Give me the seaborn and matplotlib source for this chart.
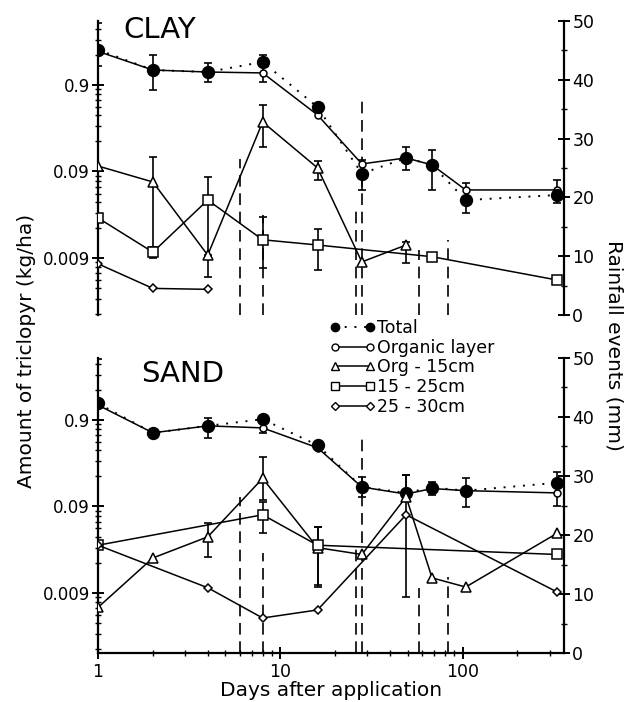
import matplotlib
matplotlib.use('Agg')
import matplotlib.pyplot as plt
import matplotlib.ticker as mticker
from matplotlib.lines import Line2D
import seaborn as sns
import numpy as np

# ---- data ----
days = [1, 2, 4, 8, 16, 28, 49, 68, 104, 330]

# CLAY
clay_total = [2.3, 1.34, 1.27, 1.66, 0.50, 0.085, 0.129, 0.107, 0.042, 0.048]
clay_total_lo = [1.5, 0.79, 0.98, 0.98, np.nan, 0.055, 0.094, 0.055, 0.030, 0.039]
clay_total_hi = [4.7, 2.0, 1.6, 2.0, np.nan, 0.123, 0.173, 0.159, 0.067, 0.072]
clay_organic = [2.2, 1.34, 1.27, 1.24, 0.405, 0.11, 0.129, 0.107, 0.055, 0.055]

clay_org15_days = [1, 2, 4, 8, 16, 28, 49]
clay_org15 = [0.104, 0.068, 0.0097, 0.336, 0.099, 0.0081, 0.0127]
clay_org15_lo = [np.nan, 0.0105, 0.0054, 0.173, 0.072, np.nan, 0.0078]
clay_org15_hi = [np.nan, 0.132, 0.0097, 0.53, 0.12, np.nan, 0.0138]

clay_sq_days = [1, 2, 4, 8, 16, 68, 330]
clay_sq = [0.0261, 0.0105, 0.042, 0.0146, 0.0127, 0.0093, 0.0050]
clay_sq_lo = [np.nan, 0.009, 0.0093, 0.0069, 0.0066, np.nan, np.nan]
clay_sq_hi = [np.nan, 0.012, 0.078, 0.0269, 0.0195, np.nan, np.nan]

clay_dia_days = [1, 2, 4]
clay_dia = [0.0077, 0.0040, 0.0039]

# SAND
sand_total = [1.4, 0.64, 0.77, 0.92, 0.46, 0.151, 0.129, 0.149, 0.137, 0.169]
sand_total_lo = [0.9, np.nan, 0.56, 0.64, np.nan, 0.116, 0.129, 0.123, 0.088, 0.09]
sand_total_hi = [4.6, np.nan, 0.96, 0.95, np.nan, 0.198, 0.21, 0.173, 0.19, 0.227]
sand_organic = [1.34, 0.64, 0.77, 0.73, 0.43, 0.151, 0.125, 0.145, 0.137, 0.129]

sand_org15 = [0.0061, 0.0228, 0.040, 0.19, 0.030, 0.025, 0.116, 0.0134, 0.0105, 0.044]
sand_org15_lo = [np.nan, np.nan, 0.0235, 0.107, 0.0105, np.nan, 0.0081, np.nan, np.nan, np.nan]
sand_org15_hi = [np.nan, np.nan, 0.058, 0.336, 0.052, np.nan, 0.209, np.nan, np.nan, np.nan]

sand_sq_days = [1, 8, 16, 330]
sand_sq = [0.032, 0.072, 0.032, 0.025]
sand_sq_lo = [np.nan, 0.044, 0.0111, np.nan]
sand_sq_hi = [np.nan, 0.101, 0.052, np.nan]

sand_dia_days = [1, 4, 8, 16, 49, 330]
sand_dia = [0.032, 0.0103, 0.0046, 0.0057, 0.072, 0.0092]

# rainfall events (mm)
rain_days = [6, 8, 26, 28, 58, 83]
rain_mm = [26.5, 17, 18, 36.5, 11, 12.8]

y_ticks = [0.009, 0.09, 0.9]
y_ticklabels = ['0.009', '0.09', '0.9']
x_ticks = [1, 10, 100]
x_ticklabels = ['1', '10', '100']

sns.set_theme(style='white')
plt.rcParams['font.family'] = ['DejaVu Sans']
plt.rcParams['text.color'] = 'black'
plt.rcParams['xtick.color'] = 'black'
plt.rcParams['ytick.color'] = 'black'
plt.rcParams['axes.labelcolor'] = 'black'

styles = {
    'Total': dict(marker='o', markersize=8.5, markerfacecolor='black', linestyle=(0, (1, 4)), linewidth=1.4),
    'Organic layer': dict(marker='o', markersize=5, markerfacecolor='white', linestyle='-', linewidth=1.1),
    'Org - 15cm': dict(marker='^', markersize=6.5, markerfacecolor='white', linestyle='-', linewidth=1.1),
    '15 - 25cm': dict(marker='s', markersize=6.5, markerfacecolor='white', linestyle='-', linewidth=1.1),
    '25 - 30cm': dict(marker='D', markersize=4.5, markerfacecolor='white', linestyle='-', linewidth=1.1),
}


def draw_series(ax, x, y, name, lo=None, hi=None):
    if lo is not None:
        x_a, y_a, lo_a, hi_a = map(np.asarray, (x, y, lo, hi))
        ok = ~(np.isnan(lo_a) | np.isnan(hi_a))
        ax.errorbar(x_a[ok], y_a[ok], yerr=[y_a[ok] - lo_a[ok], hi_a[ok] - y_a[ok]],
                    fmt='none', ecolor='black', elinewidth=1.2, capsize=3, capthick=1.2, zorder=3)
    sns.lineplot(x=x, y=y, ax=ax, color='black', markeredgecolor='black',
                 markeredgewidth=1.1, estimator=None, sort=False, legend=False,
                 zorder=4, **styles[name])


def style_panel(ax, bottom_axis, ylim):
    ax.set_xscale('log')
    ax.set_yscale('log')
    ax.set_xlabel('')
    ax.set_ylabel('')

    # rainfall on a twin axis
    ax2 = ax.twinx()
    ax2.vlines(rain_days, 0, rain_mm, colors='black', linestyles=(0, (7, 4)), linewidth=1.2)
    ax2.set_ylim(0, 50)
    ax2.yaxis.set_major_locator(mticker.MultipleLocator(10))
    ax2.yaxis.set_minor_locator(mticker.MultipleLocator(5))
    ax2.tick_params(axis='y', which='major', direction='inout', length=8, width=1.4,
                    labelsize=12.5, right=True, pad=2)
    ax2.tick_params(axis='y', which='minor', direction='inout', length=5, width=1.0, right=True)
    for side in ['top', 'bottom', 'left']:
        ax2.spines[side].set_visible(False)
    ax2.spines['right'].set_linewidth(1.6)
    ax2.spines['right'].set_color('black')
    ax2.grid(False)
    ax2.set_zorder(ax.get_zorder() - 1)

    # log axes set after the twin so its locators stay
    ax.set_xlim(1, 360)
    ax.set_ylim(*ylim)
    ax.yaxis.set_major_locator(mticker.FixedLocator(y_ticks))
    ax.yaxis.set_major_formatter(mticker.FixedFormatter(y_ticklabels))
    ax.yaxis.set_minor_locator(mticker.LogLocator(base=10, subs=np.arange(2, 10)))
    ax.yaxis.set_minor_formatter(mticker.NullFormatter())
    ax.xaxis.set_major_locator(mticker.FixedLocator(x_ticks))
    ax.xaxis.set_major_formatter(mticker.FixedFormatter(x_ticklabels))
    ax.xaxis.set_minor_locator(mticker.LogLocator(base=10, subs=np.arange(2, 10)))
    ax.xaxis.set_minor_formatter(mticker.NullFormatter())
    ax.spines['top'].set_visible(False)
    ax.spines['right'].set_visible(False)
    ax.spines['left'].set_linewidth(1.6)
    ax.spines['left'].set_color('black')
    ax.spines['bottom'].set_visible(bottom_axis)
    ax.spines['bottom'].set_linewidth(1.6)
    ax.spines['bottom'].set_color('black')
    ax.tick_params(axis='y', which='major', direction='inout', length=8, width=1.4,
                   labelsize=12, left=True, pad=2)
    ax.tick_params(axis='y', which='minor', direction='inout', length=5, width=1.0, left=True)
    if bottom_axis:
        ax.tick_params(axis='x', which='major', direction='inout', length=8, width=1.4,
                       labelsize=12.5, bottom=True, pad=3)
        ax.tick_params(axis='x', which='minor', direction='inout', length=5, width=1.0, bottom=True)
    else:
        ax.tick_params(axis='x', which='both', bottom=False, labelbottom=False)
    ax.grid(False)
    ax.patch.set_alpha(0)
    return ax2


fig = plt.figure(figsize=(6.3, 7.02), dpi=100)
ax_top = fig.add_axes([98 / 630, 1 - 315 / 702, 466 / 630, 294 / 702])
ax_bot = fig.add_axes([98 / 630, 1 - 653 / 702, 466 / 630, 295 / 702])

# CLAY panel
draw_series(ax_top, days, clay_organic, 'Organic layer')
draw_series(ax_top, days, clay_total, 'Total', clay_total_lo, clay_total_hi)
draw_series(ax_top, clay_org15_days, clay_org15, 'Org - 15cm', clay_org15_lo, clay_org15_hi)
draw_series(ax_top, clay_sq_days, clay_sq, '15 - 25cm', clay_sq_lo, clay_sq_hi)
draw_series(ax_top, clay_dia_days, clay_dia, '25 - 30cm')
style_panel(ax_top, False, (0.00197, 4.94))

# SAND panel
draw_series(ax_bot, days, sand_organic, 'Organic layer')
draw_series(ax_bot, days, sand_total, 'Total', sand_total_lo, sand_total_hi)
draw_series(ax_bot, days, sand_org15, 'Org - 15cm', sand_org15_lo, sand_org15_hi)
draw_series(ax_bot, sand_sq_days, sand_sq, '15 - 25cm', sand_sq_lo, sand_sq_hi)
draw_series(ax_bot, sand_dia_days, sand_dia, '25 - 30cm')
style_panel(ax_bot, True, (0.00181, 4.7))

# panel titles
fig.text(160 / 630, 1 - 30 / 702, 'CLAY', fontsize=21, ha='center', va='center')
fig.text(183 / 630, 1 - 374 / 702, 'SAND', fontsize=21, ha='center', va='center')

# axis labels
fig.text(27 / 630, 1 - 351 / 702, 'Amount of triclopyr (kg/ha)', rotation=90,
         fontsize=14.5, ha='center', va='center')
fig.text(614 / 630, 1 - 345 / 702, 'Rainfall events (mm)', rotation=270,
         fontsize=14.5, ha='center', va='center')
fig.text(331 / 630, 1 - 690 / 702, 'Days after application', fontsize=14.5,
         ha='center', va='center')

# legend
names = ['Total', 'Organic layer', 'Org - 15cm', '15 - 25cm', '25 - 30cm']
handles = []
for n in names:
    st = dict(styles[n])
    st['markersize'] = min(st['markersize'], 6)
    handles.append(Line2D([], [], color='black', markeredgecolor='black', **st))
fig.legend(handles, names, loc='upper left', bbox_to_anchor=(330 / 630, 1 - 319 / 702),
           frameon=False, numpoints=2, fontsize=12.5, handlelength=2.6,
           handletextpad=0.1, labelspacing=0.1, borderpad=0, borderaxespad=0)

fig.savefig('out.png', dpi=100, facecolor='white')
